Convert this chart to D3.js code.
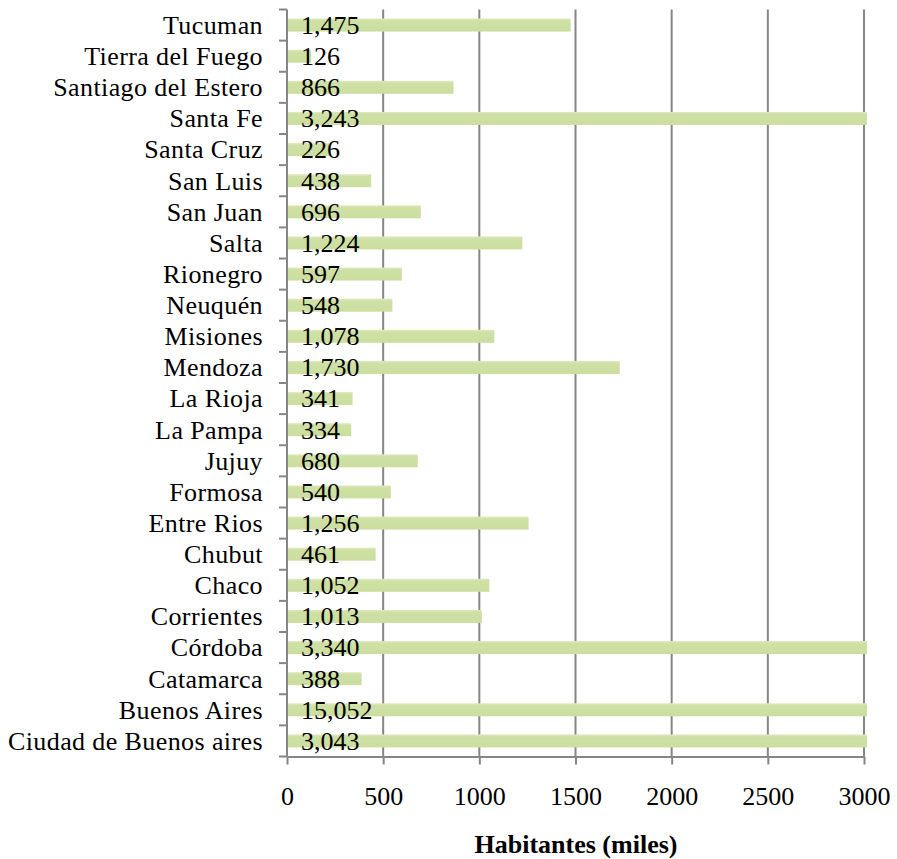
<!DOCTYPE html>
<html>
<head>
<meta charset="utf-8">
<script src="https://cdn.jsdelivr.net/npm/d3@7"></script>
<style>
  body { margin: 0; background: #fff; }
  text { font-family: "Liberation Serif", "Times New Roman", serif; fill: #000; }
</style>
</head>
<body>
<svg id="chart"></svg>
<script>
// provinces, top to bottom as drawn
var provinces = ["Tucuman", "Tierra del Fuego", "Santiago del Estero", "Santa Fe", "Santa Cruz",
  "San Luis", "San Juan", "Salta", "Rionegro", "Neuquén", "Misiones", "Mendoza", "La Rioja",
  "La Pampa", "Jujuy", "Formosa", "Entre Rios", "Chubut", "Chaco", "Corrientes", "Córdoba",
  "Catamarca", "Buenos Aires", "Ciudad de Buenos aires"];
// habitantes (miles)
var habitantes = [1475, 126, 866, 3243, 226, 438, 696, 1224, 597, 548, 1078, 1730, 341,
  334, 680, 540, 1256, 461, 1052, 1013, 3340, 388, 15052, 3043];
var xTicks = [0, 500, 1000, 1500, 2000, 2500, 3000];
var xTitle = "Habitantes (miles)";

var width = 897, height = 859;
var svg = d3.select("#chart").attr("width", width).attr("height", height);

var x = d3.scaleLinear().domain([0, 3000]).range([287, 864]).clamp(true);
var y = d3.scaleBand().domain(provinces).range([9.5, 756.5]).paddingInner(0).paddingOuter(0);
var barH = 13;
var grey = "#868686";

// bar gradient (lighter top edge)
var defs = svg.append("defs");
var grad = defs.append("linearGradient").attr("id", "barfill")
  .attr("x1", 0).attr("y1", 0).attr("x2", 0).attr("y2", 1);
grad.append("stop").attr("offset", "0%").attr("stop-color", "#dfeabf");
grad.append("stop").attr("offset", "18%").attr("stop-color", "#cfe0a4");
grad.append("stop").attr("offset", "100%").attr("stop-color", "#cbde9f");

// vertical gridlines
svg.append("g").selectAll("line")
  .data(xTicks.slice(1))
  .enter().append("line")
  .attr("x1", function(d) { return x(d); })
  .attr("x2", function(d) { return x(d); })
  .attr("y1", y.range()[0])
  .attr("y2", y.range()[1])
  .attr("stroke", grey)
  .attr("stroke-width", 2);

// bars
svg.append("g").selectAll("rect")
  .data(provinces)
  .enter().append("rect")
  .attr("x", x(0))
  .attr("y", function(d) { return y(d) + y.bandwidth() / 2 - barH / 2; })
  .attr("width", function(d, i) { return x(habitantes[i]) - x(0) + (habitantes[i] > 3000 ? 3 : 0); })
  .attr("height", barH)
  .attr("fill", "url(#barfill)");

// value labels
svg.append("g").selectAll("text")
  .data(provinces)
  .enter().append("text")
  .attr("x", 301)
  .attr("y", function(d) { return y(d) + y.bandwidth() / 2; })
  .attr("dy", "0.34em")
  .style("font-size", "26px")
  .text(function(d, i) { return d3.format(",")(habitantes[i]); });

// y axis
var yAxis = svg.append("g").attr("transform", "translate(" + x(0) + ",0)");
yAxis.append("line")
  .attr("x1", 0).attr("x2", 0)
  .attr("y1", y.range()[0]).attr("y2", y.range()[1])
  .attr("stroke", grey).attr("stroke-width", 2);
var bounds = provinces.map(function(d) { return y(d); }).concat([y.range()[1]]);
yAxis.selectAll(".tick")
  .data(bounds)
  .enter().append("line")
  .attr("x1", -8).attr("x2", 0)
  .attr("y1", function(d) { return d; })
  .attr("y2", function(d) { return d; })
  .attr("stroke", grey).attr("stroke-width", 2);

svg.append("g").selectAll("text")
  .data(provinces)
  .enter().append("text")
  .attr("x", 263)
  .attr("y", function(d) { return y(d) + y.bandwidth() / 2; })
  .attr("dy", "0.34em")
  .attr("text-anchor", "end")
  .style("font-size", "26px")
  .style("letter-spacing", "0.4px")
  .text(function(d) { return d; });

// x axis
var axisY = y.range()[1];
var xAxis = svg.append("g")
  .attr("transform", "translate(0," + axisY + ")")
  .call(d3.axisBottom(x).tickValues(xTicks).tickFormat(d3.format("d"))
    .tickSize(8).tickPadding(22).tickSizeOuter(0));
xAxis.select(".domain").attr("stroke", grey).attr("stroke-width", 2);
xAxis.selectAll(".tick line").attr("stroke", grey).attr("stroke-width", 2);
xAxis.selectAll(".tick text")
  .style("font-size", "26px")
  .style("font-family", "'Liberation Serif', 'Times New Roman', serif")
  .attr("fill", "#000");

// axis title
svg.append("text")
  .attr("x", 576)
  .attr("y", 853)
  .attr("text-anchor", "middle")
  .style("font-size", "26px")
  .style("font-weight", "bold")
  .text(xTitle);
</script>
</body>
</html>
